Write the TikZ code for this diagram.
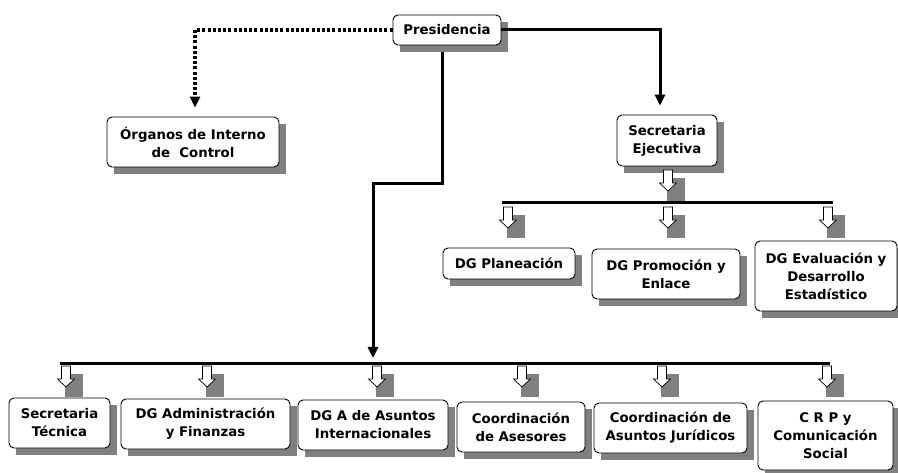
\documentclass[tikz,border=0pt]{standalone}
\usepackage{fontspec}
\setmainfont{DejaVu Sans}
\usetikzlibrary{arrows.meta,calc}
\pgfdeclarelayer{background}
\pgfsetlayers{background,main}
\definecolor{shadowc}{RGB}{128,128,128}
\newcommand\boxshadow[1]{\fill[shadowc] ($(#1.south west)+(7,7)$) rectangle ($(#1.north east)+(7,7)$);}
\begin{document}
\begin{tikzpicture}[x=1pt,y=-1pt,
 box/.style={draw=black, line width=0.9pt, fill=white, rounded corners=5pt, align=center, inner sep=0pt, font=\fontsize{13.3}{18}\selectfont\bfseries},
 mainline/.style={line width=3pt, -{Triangle[width=10pt,length=11pt]}},
 dotline/.style={line width=3.4pt, dash pattern=on 3pt off 2.2pt, -{Triangle[width=10pt,length=11pt]}},
 barline/.style={line width=3pt},
 hollow/.pic={
   \fill[shadowc] (-1,8) rectangle (17,31);
   \draw[fill=white, line width=0.7pt, line join=miter] (-4.5,0) -- (4.5,0) -- (4.5,13) -- (8.5,13) -- (0,21) -- (-8.5,13) -- (-4.5,13) -- cycle;
 }
]
\useasboundingbox (0,0) rectangle (898,473);

\node[box, minimum width=108, minimum height=30] (pres) at (447,30) {Presidencia};
\node[box, minimum width=172, minimum height=50] (org) at (193,142) {Órganos de Interno\\de\ \ Control};
\node[box, minimum width=100, minimum height=51] (secE) at (667,140.5) {Secretaria\\Ejecutiva};
\node[box, minimum width=132, minimum height=31] (plan) at (509,263.5) {DG Planeación};
\node[box, minimum width=148, minimum height=50] (prom) at (666,274) {DG Promoción y\\Enlace};
\node[box, minimum width=142, minimum height=70] (eval) at (826,276) {DG Evaluación y\\Desarrollo\\Estadístico};
\node[box, minimum width=101, minimum height=50] (secT) at (59.5,423) {Secretaria\\Técnica};
\node[box, minimum width=169, minimum height=50] (adm) at (205.5,424) {DG Administración\\y Finanzas};
\node[box, minimum width=150, minimum height=50] (dga) at (373,425) {DG A de Asuntos\\Internacionales};
\node[box, minimum width=128, minimum height=50] (cas) at (521,427) {Coordinación\\de Asesores};
\node[box, minimum width=153, minimum height=50] (caj) at (670.5,428) {Coordinación de\\Asuntos Jurídicos};
\node[box, minimum width=135, minimum height=69] (crp) at (825.5,435.5) {C R P y\\Comunicación\\Social};

\begin{pgfonlayer}{background}
\fill[white] (0,0) rectangle (898,473);
\foreach \n in {pres,org,secE,plan,prom,eval,secT,adm,dga,cas,caj,crp} {\boxshadow{\n}}
\end{pgfonlayer}

% connectors from Presidencia
\draw[dotline, shorten >=9pt] (pres.west) -| ($(org.north)+(2,0)$);
\draw[mainline, shorten >=9pt] (pres.east) -| ($(secE.north)+(-7,0)$);
\coordinate (mstart) at ($(pres.south)+(-5,7)$);
\coordinate (bend) at (373,184);
\coordinate (botjoin) at (373,364);
\draw[mainline, shorten >=6pt] (mstart) |- (bend) -- (botjoin);

% bars
\coordinate (topL) at (502,203);
\coordinate (topR) at (833,203);
\draw[barline] (topL) -- (topR);
\coordinate (botL) at (60,364);
\coordinate (botR) at (830,364);
\draw[barline] (botL) -- (botR);

% hollow arrows
\pic at (668,170) {hollow};
\foreach \x in {508,668,828} {\pic at (\x,207) {hollow};}
\foreach \x in {66,207,377,522,662,827} {\pic at (\x,366) {hollow};}
\end{tikzpicture}
\end{document}
